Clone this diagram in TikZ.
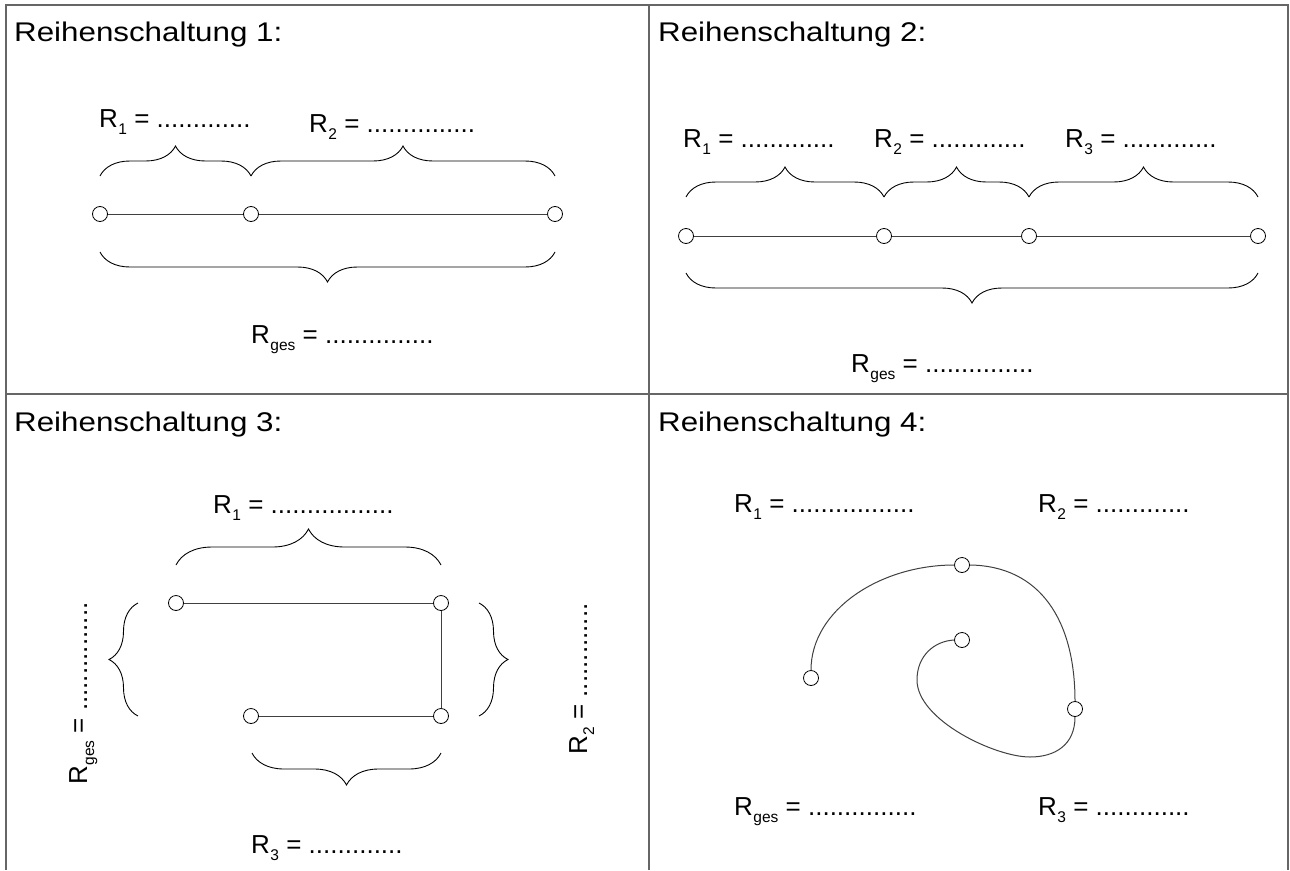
\documentclass[tikz,border=0pt]{standalone}
\usepackage{fontspec}
\setmainfont{Liberation Sans}
\newfontfamily\ttlfont[FakeStretch=1.16]{Liberation Sans}
\usetikzlibrary{decorations.pathreplacing}
\newcommand{\rlab}[2]{R\kern0.5pt\raisebox{-7pt}{\fontsize{15.5}{15.5}\selectfont #1}\ =\ #2}
\tikzset{
  pin/.style={circle, draw=black, fill=white, minimum size=15pt, inner sep=0pt, line width=0.8pt},
  wire/.style={draw=black!75, line width=1pt},
  brc/.style={draw=black, decorate, decoration={brace, amplitude=#1}, line width=0.9pt},
  lab/.style={anchor=base west, inner sep=0pt, font=\fontsize{26}{30}\selectfont},
  ttl/.style={anchor=base west, inner sep=0pt, font=\ttlfont\fontsize{27}{30}\selectfont},
  frame/.style={draw=black!60, line width=1.5pt}
}
\begin{document}
\begin{tikzpicture}[x=1pt,y=-1pt]
\useasboundingbox (0,0) rectangle (1290,870);
% frame
\draw[frame] (6,870) -- (6,5) -- (1288,5) -- (1288,870);
\draw[frame] (649,5) -- (649,870);
\draw[frame] (6,394) -- (1288,394);
% titles
\node[ttl] (t1) at (14,41) {Reihenschaltung 1:};
\node[ttl] (t2) at (658,41) {Reihenschaltung 2:};
\node[ttl] (t3) at (14,431) {Reihenschaltung 3:};
\node[ttl] (t4) at (658,431) {Reihenschaltung 4:};
% ---- cell 1
\node[pin] (a1) at (100,214) {};
\node[pin] (a2) at (251,214) {};
\node[pin] (a3) at (555,214) {};
\draw[wire] (a1) -- (a2);
\draw[wire] (a2) -- (a3);
\draw[brc=30] (100,176) -- (251,176);
\draw[brc=30] (251,176) -- (555,176);
\draw[brc=30] (555,252) -- (100,252);
\node[lab] (a1l) at (99,127) {\rlab{1}{.............}};
\node[lab] (a2l) at (309,132) {\rlab{2}{...............}};
\node[lab] (agl) at (251,343) {\rlab{ges}{...............}};
% ---- cell 2
\node[pin] (b1) at (686,236) {};
\node[pin] (b2) at (884,236) {};
\node[pin] (b3) at (1029,236) {};
\node[pin] (b4) at (1258,236) {};
\draw[wire] (b1) -- (b2);
\draw[wire] (b2) -- (b3);
\draw[wire] (b3) -- (b4);
\draw[brc=30] (686,197) -- (884,197);
\draw[brc=30] (884,197) -- (1029,197);
\draw[brc=30] (1029,197) -- (1258,197);
\draw[brc=30] (1258,273) -- (686,273);
\node[lab] (b1l) at (683,147) {\rlab{1}{.............}};
\node[lab] (b2l) at (874,147) {\rlab{2}{.............}};
\node[lab] (b3l) at (1065,147) {\rlab{3}{.............}};
\node[lab] (bgl) at (851,372) {\rlab{ges}{...............}};
% ---- cell 3
\node[pin] (c1) at (176,603) {};
\node[pin] (c2) at (441,603) {};
\node[pin] (c3) at (441,716) {};
\node[pin] (c4) at (251,716) {};
\draw[wire] (c1) -- (c2);
\draw[wire] (c2) -- (c3);
\draw[wire] (c3) -- (c4);
\draw[brc=36] (176,565) -- (441,565);
\draw[brc=29] (138,716) -- (138,603);
\draw[brc=29] (479,603) -- (479,716);
\draw[brc=32] (441,753) -- (252,753);
\node[lab] (c1l) at (213,513) {\rlab{1}{.................}};
\node[lab] (c3l) at (251,853) {\rlab{3}{.............}};
\node[lab, rotate=90] (cgl) at (87,785) {\rlab{ges}{...............}};
\node[lab, rotate=90] (c2l) at (587,755) {\rlab{2}{.............}};
% ---- cell 4
\node[pin] (d1) at (811,678) {};
\node[pin] (d2) at (962,565) {};
\node[pin] (d3) at (962,640) {};
\node[pin] (d4) at (1075,709) {};
\coordinate (dlow) at (1030,757);
\coordinate (dleft) at (917,680);
\draw[wire] (d1.north) .. controls (811,610) and (880,565) .. (d2.west);
\draw[wire] (d2.east) .. controls (1040,566) and (1075,620) .. (d4.north);
\draw[wire] (d4.south) .. controls (1075,745) and (1055,757) .. (dlow)
  .. controls (995,757) and (917,720) .. (dleft)
  .. controls (917,655) and (935,641) .. (d3.west);
\node[lab] (d1l) at (734,512) {\rlab{1}{.................}};
\node[lab] (d2l) at (1038,512) {\rlab{2}{.............}};
\node[lab] (dgl) at (734,815) {\rlab{ges}{...............}};
\node[lab] (d3l) at (1038,815) {\rlab{3}{.............}};
\end{tikzpicture}
\end{document}
